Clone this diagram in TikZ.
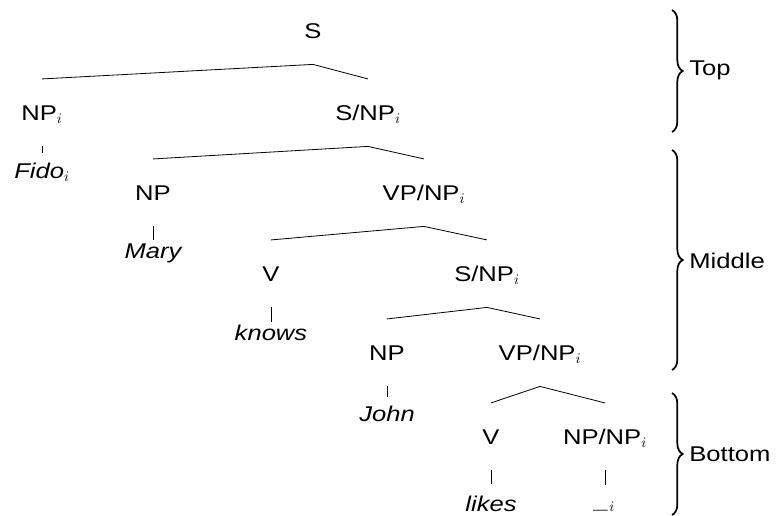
\documentclass[tikz,border=0pt]{standalone}
\usepackage{fontspec}
\setmainfont[FakeStretch=1.2]{Liberation Sans}
\usetikzlibrary{decorations.pathreplacing}

\tikzset{every picture/.style={line width=0.6pt}}
\tikzset{
  cat/.style={anchor=base, inner xsep=0pt, inner ysep=19.5pt, text height=11pt, text depth=0pt, font=\fontsize{16}{19}\selectfont},
  word/.style={anchor=base, inner xsep=0pt, inner ysep=#1, text height=11pt, text depth=0pt, font=\fontsize{16}{19}\selectfont\itshape},
  word/.default=2.25pt,
  bracket/.style={decorate, decoration={brace, amplitude=8pt}, line width=1.3pt},
  bracelabel/.style={anchor=west, inner sep=0.75pt, font=\fontsize{16}{19}\selectfont}
}

\begin{document}
\begin{tikzpicture}[x=0.75pt,y=0.75pt,yscale=-1,xscale=1]
\useasboundingbox (0,0) rectangle (777,515);

% Text Node
\node [cat] (S) at (313,38) {S};
% Text Node
\node [cat] (NPi) at (42,120) {NP$_i$};
% Text Node
\node [cat] (SNPa) at (368,120) {S/NP$_i$};
% Text Node
\node [word=7.5pt] (Fido) at (42,178) {Fido$_i$};
% Text Node
\node [cat] (NPa) at (153,200) {NP};
% Text Node
\node [cat] (VPNPa) at (424,200) {VP/NP$_i$};
% Text Node
\node [word] (Mary) at (153,258) {Mary};
% Text Node
\node [cat] (Va) at (271,281) {V};
% Text Node
\node [cat] (SNPb) at (487,281) {S/NP$_i$};
% Text Node
\node [word] (knows) at (271,340) {knows};
% Text Node
\node [cat] (NPb) at (387,360) {NP};
% Text Node
\node [cat] (VPNPb) at (540,360) {VP/NP$_i$};
% Text Node
\node [word=6.75pt] (John) at (387,421) {John};
% Text Node
\node [cat] (Vb) at (491,444) {V};
% Text Node
\node [cat] (NPNP) at (605,444) {NP/NP$_i$};
% Text Node
\node [word=9pt] (likes) at (491,511) {likes};
% Text Node
\node [word=6pt] (trace) at (605,508) {\_$_i$};

%Straight Lines
\draw (NPi.north) -- (S.south) -- (SNPa.north);
\draw (NPi.south) -- (Fido.north);
%Straight Lines
\draw (NPa.north) -- (SNPa.south) -- (VPNPa.north);
\draw (NPa.south) -- (Mary.north);
%Straight Lines
\draw (Va.north) -- (VPNPa.south) -- (SNPb.north);
\draw (Va.south) -- (knows.north);
%Straight Lines
\draw (NPb.north) -- (SNPb.south) -- (VPNPb.north);
\draw (NPb.south) -- (John.north);
%Straight Lines
\draw (Vb.north) -- (VPNPb.south) -- (NPNP.north);
\draw (Vb.south) -- (likes.north);
\draw (NPNP.south) -- (trace.north);

%Braces
\draw [bracket] (672,10) -- (672,132);
\draw [bracket] (672,150) -- (672,370);
\draw [bracket] (672,393) -- (672,515);
% Text Node
\node [bracelabel] (top) at (688,70) {Top};
% Text Node
\node [bracelabel] (middle) at (688,261) {Middle};
% Text Node
\node [bracelabel] (bottom) at (688,454) {Bottom};

\end{tikzpicture}
\end{document}
